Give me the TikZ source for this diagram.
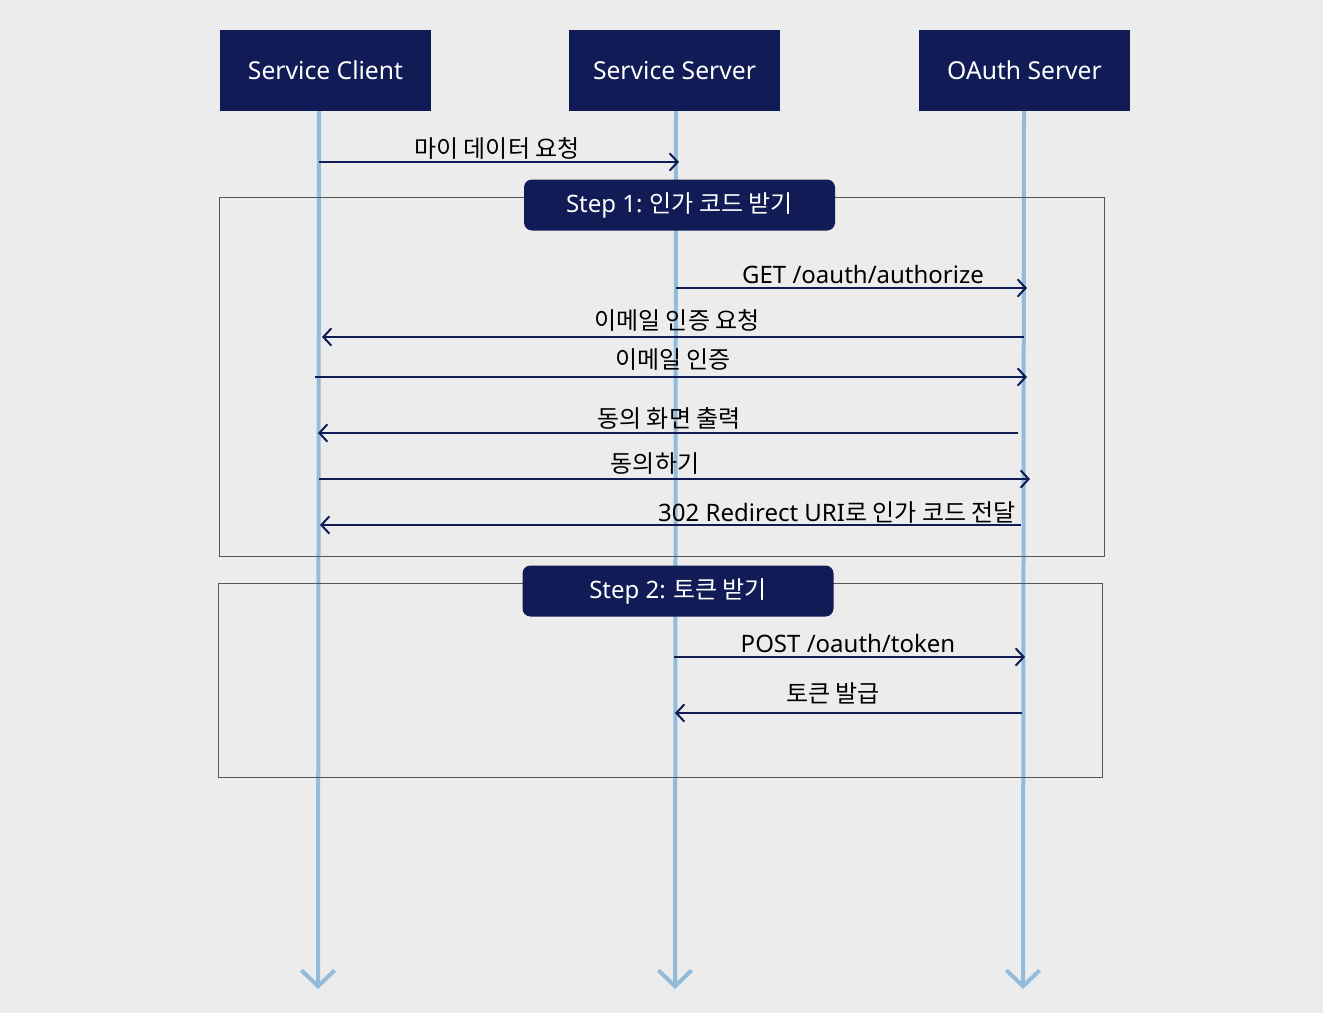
\documentclass[tikz,border=0pt]{standalone}
\usepackage{fontspec}
\setmainfont{Noto Sans CJK KR}
\newfontfamily\latfont{Noto Sans}
\usetikzlibrary{arrows.meta,positioning}

\definecolor{navy}{HTML}{111B55}
\definecolor{lifeblue}{HTML}{93BBDC}
\definecolor{bggray}{HTML}{ECECEC}
\definecolor{framegray}{HTML}{555555}

\newcommand{\lat}[1]{{\latfont #1}}

\tikzset{
  actor/.style={fill=navy,text=white,minimum width=211*0.75pt,minimum height=81*0.75pt,inner sep=0pt,font=\fontsize{18.5}{21}\selectfont\latfont},
  steplabel/.style={fill=navy,text=white,rounded corners=6pt,minimum width=311*0.75pt,minimum height=51*0.75pt,inner sep=0pt,font=\fontsize{18}{21}\selectfont},
  lifeline/.style={draw=lifeblue,line width=3pt,-{Straight Barb[length=12pt,width=25pt,line width=3pt]}},
  msg/.style={draw=navy,line width=1.5pt,-{Straight Barb[length=6pt,width=13pt,line width=1.5pt]}},
  lbl/.style={inner sep=0pt,font=\fontsize{18}{21}\selectfont},
  frame/.style={draw=framegray,line width=0.7pt},
}

\begin{document}
\begin{tikzpicture}[x=0.75pt,y=-0.75pt]

  % canvas
  \fill[bggray] (0,0) rectangle (1323,1013);
  \useasboundingbox (0,0) rectangle (1323,1013);

  % lifelines
  \coordinate (clTop) at (319,111);  \coordinate (clBot) at (318,989);
  \coordinate (svTop) at (676,111);  \coordinate (svBot) at (675,989);
  \coordinate (oaTop) at (1024,111); \coordinate (oaBot) at (1023,989);
  \draw[lifeline] (clTop) -- (clBot);
  \draw[lifeline] (svTop) -- (svBot);
  \draw[lifeline] (oaTop) -- (oaBot);

  % frames
  \draw[frame] (219,197) rectangle (1104,556);
  \draw[frame] (218,583) rectangle (1102,777);

  % actors
  \node[actor] (hdrClient) at (325.5,70.5) {Service Client};
  \node[actor] (hdrServer) at (674.5,70.5) {Service Server};
  \node[actor] (hdrOAuth)  at (1024.5,70.5) {OAuth Server};

  % messages
  \coordinate (reqA) at (319,162);  \coordinate (reqB) at (679,162);
  \draw[msg] (reqA) -- (reqB);
  \node[lbl] (reqLbl) at (497,148) {마이 데이터 요청};

  \node[steplabel] (stepOne) at (679.5,205) {\lat{Step 1:} 인가 코드 받기};

  \coordinate (getA) at (676,288);  \coordinate (getB) at (1027,288);
  \draw[msg] (getA) -- (getB);
  \node[lbl] (getLbl) at (863,274) {\lat{GET /oauth/authorize}};

  \coordinate (mailReqA) at (1024,337); \coordinate (mailReqB) at (322,337);
  \draw[msg] (mailReqA) -- (mailReqB);
  \node[lbl] (mailReqLbl) at (677,320) {이메일 인증 요청};

  \coordinate (mailA) at (315,377); \coordinate (mailB) at (1027,377);
  \draw[msg] (mailA) -- (mailB);
  \node[lbl] (mailLbl) at (673,360) {이메일 인증};

  \coordinate (agreeScrA) at (1018,433); \coordinate (agreeScrB) at (318,433);
  \draw[msg] (agreeScrA) -- (agreeScrB);
  \node[lbl] (agreeScrLbl) at (669,418) {동의 화면 출력};

  \coordinate (agreeA) at (319,479); \coordinate (agreeB) at (1030,479);
  \draw[msg] (agreeA) -- (agreeB);
  \node[lbl] (agreeLbl) at (655,464) {동의하기};

  \coordinate (redirA) at (1021,525); \coordinate (redirB) at (320,525);
  \draw[msg] (redirA) -- (redirB);
  \node[lbl,anchor=east] (redirLbl) at (1016,512) {\lat{302 Redirect URI}로 인가 코드 전달};

  \node[steplabel] (stepTwo) at (678,591) {\lat{Step 2:} 토큰 받기};

  \coordinate (postA) at (674,657); \coordinate (postB) at (1025,657);
  \draw[msg] (postA) -- (postB);
  \node[lbl] (postLbl) at (848,643) {\lat{POST /oauth/token}};

  \coordinate (tokA) at (1022,713); \coordinate (tokB) at (675,713);
  \draw[msg] (tokA) -- (tokB);
  \node[lbl] (tokLbl) at (833,693) {토큰 발급};

\end{tikzpicture}
\end{document}
